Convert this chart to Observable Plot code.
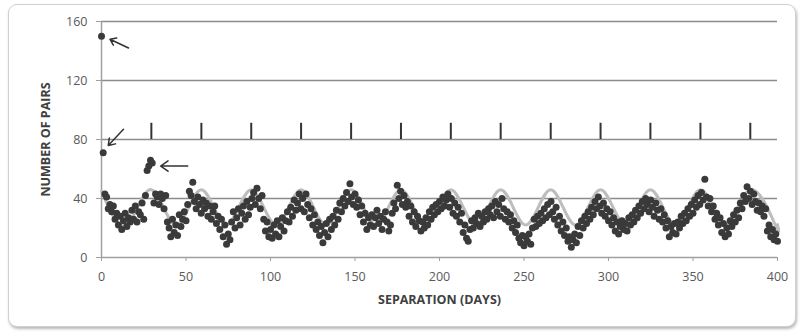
<!DOCTYPE html>
<html><head><meta charset="utf-8">
<script src="https://cdn.jsdelivr.net/npm/d3@7"></script>
<script src="https://cdn.jsdelivr.net/npm/@observablehq/plot@0.6"></script>
<style>
body{margin:0;background:#fff;}
#frame{position:absolute;left:8px;top:4px;width:786px;height:321px;border:1px solid #d0d0d0;border-radius:9px;box-shadow:1px 2px 3px rgba(0,0,0,0.28);background:#fff;}
#chart{position:absolute;left:0;top:0;}
#chart svg [aria-label$="axis label"] text{font-weight:bold;fill:#404040;font-size:12.5px;}
</style></head><body>
<div id="frame"></div><div id="chart"></div>
<script>
// number of pairs per separation day (index = day 0..400)
const pairs = [
150, 71, 43, 41, 33, 36, 31, 35, 26, 30,
22, 28, 19, 25, 30, 21, 27, 24, 32, 26,
35, 24, 31, 29, 37, 26, 42, 59, 62, 66,
64, 37, 43, 41, 36, 43, 40, 33, 42, 24,
20, 14, 26, 17, 22, 15, 29, 21, 26, 31,
25, 36, 45, 42, 51, 38, 33, 41, 36, 30,
39, 33, 37, 28, 35, 26, 31, 35, 23, 28,
19, 26, 14, 22, 9, 16, 12, 24, 31, 20,
27, 33, 22, 30, 35, 26, 38, 29, 34, 40,
44, 36, 47, 40, 33, 42, 26, 18, 24, 14,
19, 13, 22, 16, 25, 14, 21, 27, 18, 25,
31, 24, 34, 28, 39, 32, 37, 43, 33, 40,
31, 43, 36, 27, 33, 22, 29, 19, 24, 15,
21, 10, 17, 23, 14, 26, 19, 28, 22, 32,
26, 37, 31, 40, 35, 44, 38, 50, 41, 36,
43, 34, 39, 29, 35, 24, 30, 19, 27, 22,
29, 21, 27, 32, 23, 28, 19, 26, 31, 24,
18, 22, 30, 37, 33, 49, 40, 45, 36, 42,
34, 38, 28, 35, 24, 31, 21, 28, 25, 18,
24, 20, 27, 22, 31, 26, 34, 29, 36, 31,
38, 33, 41, 35, 39, 43, 34, 40, 30, 37,
28, 34, 24, 30, 17, 22, 13, 11, 19, 25,
20, 27, 23, 30, 21, 28, 24, 31, 26, 33,
29, 35, 27, 38, 31, 36, 28, 40, 33, 26,
31, 24, 29, 20, 25, 17, 22, 13, 10, 15,
8, 14, 11, 16, 9, 20, 26, 21, 28, 23,
30, 25, 33, 27, 36, 29, 38, 31, 26, 34,
22, 28, 18, 24, 15, 20, 11, 14, 7, 12,
16, 10, 21, 15, 25, 20, 28, 23, 31, 26,
34, 29, 38, 33, 41, 35, 30, 37, 28, 33,
25, 31, 22, 27, 18, 24, 16, 21, 25, 19,
23, 18, 27, 22, 29, 24, 32, 27, 35, 30,
38, 33, 40, 36, 31, 39, 34, 28, 37, 32,
26, 33, 24, 29, 20, 25, 14, 21, 17, 23,
16, 24, 20, 28, 23, 30, 25, 33, 28, 36,
30, 39, 34, 42, 36, 44, 39, 53, 41, 35,
40, 31, 35, 26, 30, 22, 27, 17, 23, 14,
20, 16, 25, 21, 29, 24, 32, 27, 37, 33,
42, 38, 48, 40, 45, 36, 43, 38, 32, 37,
31, 35, 28, 33, 18, 22, 14, 19, 12, 16,
11
];
// fitted lunar curve: peaks and troughs
const curveDays = [0, 14.8, 29.5, 44.3, 59.1, 73.8, 88.6, 103.4, 118.1, 132.9, 147.7, 162.4, 177.2, 192.0, 206.7, 221.5, 236.2, 251.0, 265.8, 280.5, 295.3, 310.1, 324.8, 339.6, 354.4, 369.1, 383.9, 398.7, 400];
const curveValues = [45, 22, 46, 22, 46, 22, 46, 22, 46, 22, 46, 22, 46, 22, 46, 22, 46, 22, 46, 22, 46, 22, 46, 22, 46, 22, 46, 22, 22.3];
// lunar month markers
const lunarTickDays = [29.5, 59.1, 88.6, 118.1, 147.7, 177.2, 206.7, 236.2, 265.8, 295.3, 324.8, 354.4, 383.9];
const markerBottom = 80, markerTop = 91;
const xTicks = [0, 50, 100, 150, 200, 250, 300, 350, 400];
const yTicks = [0, 40, 80, 120, 160];
const gridValues = [40, 80, 120, 160];
// annotation arrows (data units)
const arrowTailDays = [16, 13, 51];
const arrowTailValues = [142, 87, 62];
const arrowTipDays = [5, 4, 35];
const arrowTipValues = [148, 76, 62];

const points = pairs.map((v, i) => ({day: i, n: v}));
const curve = curveDays.map((d, i) => ({day: d, n: curveValues[i]}));
const arrows = arrowTailDays.map((d, i) => ({x1: d, y1: arrowTailValues[i], x2: arrowTipDays[i], y2: arrowTipValues[i]}));

const chart = Plot.plot({
  width: 803, height: 333,
  marginLeft: 101, marginRight: 26, marginTop: 21, marginBottom: 76,
  style: {fontFamily: "'Open Sans', sans-serif", fontSize: "12.5px", color: "#595959", background: "transparent"},
  x: {domain: [0, 400]},
  y: {domain: [0, 160]},
  marks: [
    Plot.ruleY(gridValues, {stroke: "#8c8c8c", strokeWidth: 1.5}),
    Plot.axisX({ticks: xTicks, tickSize: 4, tickPadding: 11, stroke: "#a0a0a0", label: "SEPARATION (DAYS)", labelAnchor: "center", labelOffset: 46, labelArrow: "none"}),
    Plot.axisY({ticks: yTicks, tickSize: 5, tickPadding: 9, stroke: "#a0a0a0", label: "NUMBER OF PAIRS", labelAnchor: "center", labelOffset: 60, labelArrow: "none"}),
    Plot.ruleY([0], {stroke: "#a0a0a0", strokeWidth: 1.5}),
    Plot.ruleX([0], {stroke: "#a0a0a0", strokeWidth: 1.5}),
    Plot.line(curve, {x: "day", y: "n", curve: "natural", stroke: "#bdbdbd", strokeWidth: 3}),
    Plot.dot(points, {x: "day", y: "n", r: 3.5, fill: "#3a3a3a", stroke: "none"}),
    Plot.ruleX(lunarTickDays, {y1: markerBottom, y2: markerTop, stroke: "#333", strokeWidth: 2}),
    Plot.arrow(arrows, {x1: "x1", y1: "y1", x2: "x2", y2: "y2", stroke: "#333", strokeWidth: 1.5, headLength: 11, headAngle: 70})
  ]
});
document.getElementById("chart").appendChild(chart);
</script>
</body></html>
